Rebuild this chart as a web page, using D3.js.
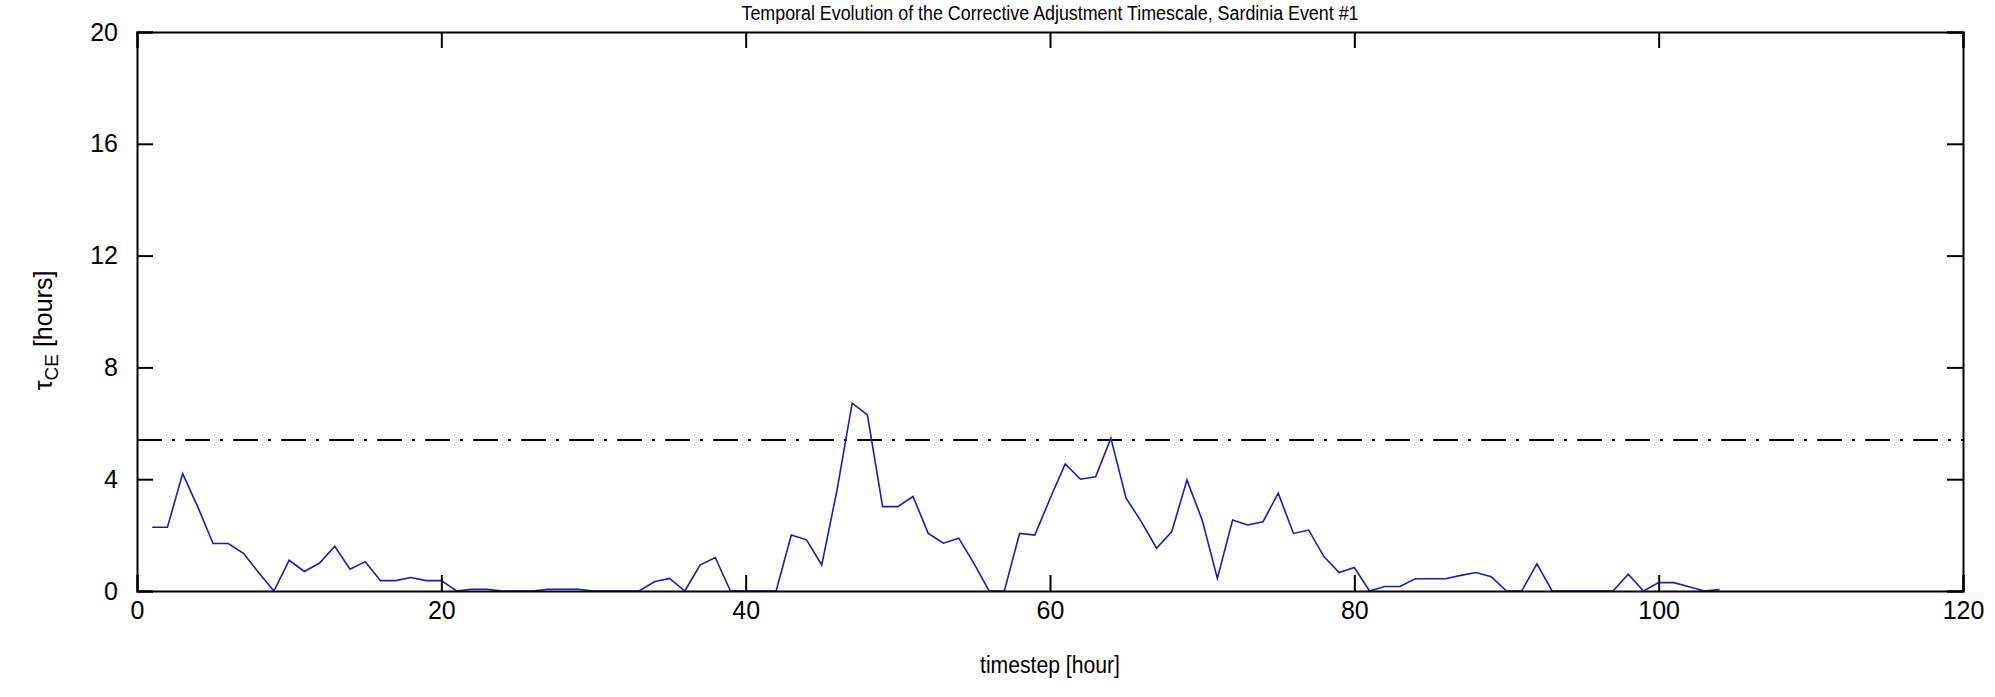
<!DOCTYPE html>
<html>
<head>
<meta charset="utf-8">
<script src="https://cdn.jsdelivr.net/npm/d3@7/dist/d3.min.js"></script>
<style>
  body { margin: 0; background: #fff; }
  text { font-family: "Liberation Sans", Arial, sans-serif; fill: #000; }
</style>
</head>
<body>
<div id="chart"></div>
<script>
// Corrective adjustment timescale per hourly timestep
const timesteps = [
  1, 2, 3, 4, 5, 6, 7, 8, 9, 10, 11, 12, 13, 14, 15, 16, 17, 18, 19, 20,
  21, 22, 23, 24, 25, 26, 27, 28, 29, 30, 31, 32, 33, 34, 35, 36, 37, 38, 39, 40,
  41, 42, 43, 44, 45, 46, 47, 48, 49, 50, 51, 52, 53, 54, 55, 56, 57, 58, 59, 60,
  61, 62, 63, 64, 65, 66, 67, 68, 69, 70, 71, 72, 73, 74, 75, 76, 77, 78, 79, 80,
  81, 82, 83, 84, 85, 86, 87, 88, 89, 90, 91, 92, 93, 94, 95, 96, 97, 98, 99, 100,
  101, 102, 103, 104
];
const tauCE = [
  2.28, 2.28, 4.2, 3.0, 1.7, 1.7, 1.35, 0.65, 0, 1.1, 0.7, 1.0, 1.6, 0.78, 1.05, 0.37, 0.37, 0.48, 0.37, 0.37,
  0, 0.06, 0.06, 0, 0, 0, 0.06, 0.06, 0.06, 0, 0, 0, 0, 0.33, 0.45, 0, 0.93, 1.2, 0, 0,
  0, 0, 2.0, 1.83, 0.93, 3.6, 6.72, 6.3, 3.02, 3.02, 3.38, 2.06, 1.71, 1.89, 0.99, 0, 0, 2.06, 2.0, 3.3,
  4.55, 4.0, 4.09, 5.47, 3.32, 2.48, 1.53, 2.12, 3.97, 2.54, 0.45, 2.54, 2.36, 2.48, 3.5, 2.06, 2.18, 1.23, 0.66, 0.84,
  0, 0.16, 0.16, 0.44, 0.44, 0.44, 0.56, 0.66, 0.51, 0, 0, 0.97, 0, 0, 0, 0, 0, 0.6, 0, 0.3,
  0.3, 0.15, 0, 0.05
];
const threshold = 5.4;
const xTicks = [0, 20, 40, 60, 80, 100, 120];
const yTicks = [0, 4, 8, 12, 16, 20];

const width = 1995;
const height = 697;
const margin = { top: 32, right: 32, bottom: 106, left: 137 };

const svg = d3.select("#chart").append("svg").attr("width", width).attr("height", height);

const x = d3.scaleLinear().domain([0, 120]).range([margin.left, width - margin.right]);
const y = d3.scaleLinear().domain([0, 20]).range([height - margin.bottom, margin.top]);
const midX = (margin.left + width - margin.right) / 2;

// title, squeezed to the narrow look of the original
svg.append("text")
  .attr("x", midX)
  .attr("y", 20)
  .attr("text-anchor", "middle")
  .attr("textLength", 617)
  .attr("lengthAdjust", "spacingAndGlyphs")
  .style("font-size", "20px")
  .text("Temporal Evolution of the Corrective Adjustment Timescale, Sardinia Event #1");

// threshold line
svg.append("line")
  .attr("x1", x(0)).attr("x2", x(120))
  .attr("y1", y(threshold)).attr("y2", y(threshold))
  .attr("stroke", "#000")
  .attr("stroke-width", 2)
  .attr("stroke-dasharray", "25,10,3,10");

// series
const line = d3.line()
  .x((d, i) => x(timesteps[i]))
  .y((d) => y(d));

svg.append("path")
  .datum(tauCE)
  .attr("d", line)
  .attr("fill", "none")
  .attr("stroke", "#1c1cb0")
  .attr("stroke-width", 1.6);

// axes: ticks pointing inward, mirrored on top/right
const tickLen = 16;
const bottomAxis = d3.axisBottom(x).tickValues(xTicks).tickSize(-tickLen).tickPadding(10).tickFormat(d3.format("d"));
const leftAxis = d3.axisLeft(y).tickValues(yTicks).tickSize(-tickLen).tickPadding(19).tickFormat(d3.format("d"));
const topAxis = d3.axisTop(x).tickValues(xTicks).tickSize(-tickLen).tickFormat("");
const rightAxis = d3.axisRight(y).tickValues(yTicks).tickSize(-tickLen).tickFormat("");

function style(g) {
  g.selectAll("path").attr("stroke", "#000").attr("stroke-width", 2);
  g.selectAll("line").attr("stroke", "#000").attr("stroke-width", 2);
  g.selectAll("text").style("font-size", "25px").attr("font-family", null);
}

svg.append("g").attr("transform", `translate(0,${y(0)})`).call(bottomAxis).call(style);
svg.append("g").attr("transform", `translate(${x(0)},0)`).call(leftAxis).call(style);
svg.append("g").attr("transform", `translate(0,${y(20)})`).call(topAxis).call(style);
svg.append("g").attr("transform", `translate(${x(120)},0)`).call(rightAxis).call(style);

// axis labels
svg.append("text")
  .attr("x", midX)
  .attr("y", 673)
  .attr("text-anchor", "middle")
  .attr("textLength", 140)
  .attr("lengthAdjust", "spacingAndGlyphs")
  .style("font-size", "23px")
  .text("timestep [hour]");

const yLabel = svg.append("text")
  .attr("transform", `translate(52,${(y(0) + y(20)) / 2 + 19}) rotate(-90)`)
  .attr("text-anchor", "middle")
  .style("font-size", "25px");
yLabel.append("tspan").text("τ");
yLabel.append("tspan").attr("dy", 6).style("font-size", "19px").text("CE");
yLabel.append("tspan").attr("dy", -6).text(" [hours]");
</script>
</body>
</html>
